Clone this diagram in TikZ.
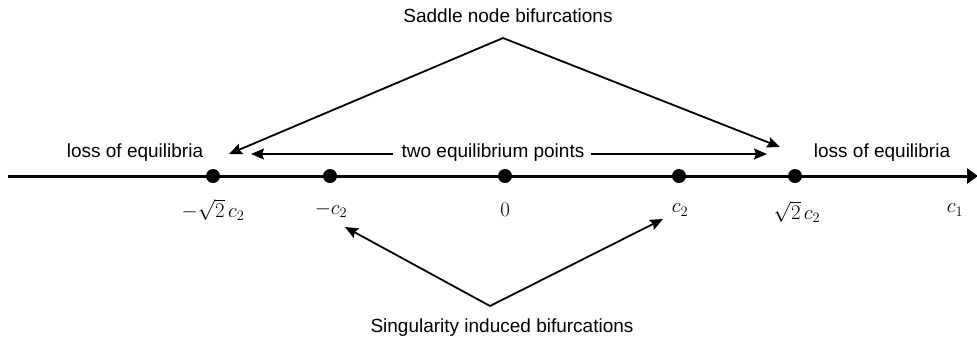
\documentclass[tikz,border=0pt]{standalone}
\usepackage{fontspec}
\setmainfont{Liberation Sans}
\usetikzlibrary{arrows.meta}
\begin{document}
\begin{tikzpicture}[x=1pt,y=-1pt,
  lbl/.style={inner sep=0pt, font=\fontsize{19}{22}\selectfont},
  mlbl/.style={inner sep=0pt, font=\fontsize{21}{24}\selectfont},
  dot/.style={circle, fill=black, minimum size=14pt, inner sep=0pt},
  arr/.style={line width=1.8pt, -{Stealth[length=13pt,width=11pt,inset=2pt]}},
  axis/.style={line width=3pt, -{Triangle[length=11pt,width=15pt]}}]
\useasboundingbox (0,0) rectangle (977,341);
% axis
\coordinate (a0) at (8,176);
\coordinate (a1) at (978,176);
\draw[axis] (a0) -- (a1);
% dots
\node[dot] (d1) at (213,176) {};
\node[dot] (d2) at (330,176) {};
\node[dot] (d3) at (505,176) {};
\node[dot] (d4) at (679,176) {};
\node[dot] (d5) at (795,176) {};
% axis labels
\node[mlbl] (l1) at (213,210) {$-\sqrt{2}\,c_{2}$};
\node[mlbl] (l2) at (331,210) {$-c_{2}$};
\node[mlbl] (l3) at (505,210) {$0$};
\node[mlbl] (l4) at (680,210) {$c_{2}$};
\node[mlbl] (l5) at (797,212) {$\sqrt{2}\,c_{2}$};
\node[mlbl] (l6) at (955,210) {$c_{1}$};
% texts
\node[lbl] (lossL) at (135,153) {loss of equilibria};
\node[lbl] (lossR) at (882,153) {loss of equilibria};
\node[lbl] (two) at (493,153) {two equilibrium points};
\node[lbl] (sad) at (508,16) {Saddle node bifurcations};
\node[lbl] (sing) at (502,328) {Singularity induced bifurcations};
% arrows for two equilibrium points
\coordinate (tL) at (251,154);
\coordinate (tR) at (767,154);
\draw[arr] (two.west) ++(-8,1) coordinate (twoW) -- (tL);
\draw[arr] (two.east) ++(6,1) coordinate (twoE) -- (tR);
% saddle node
\coordinate (sApex) at (503,38);
\coordinate (sL) at (229,154);
\coordinate (sR) at (780,147);
\draw[arr] (sApex) -- (sL);
\draw[arr] (sApex) -- (sR);
% singularity
\coordinate (gApex) at (490,306);
\coordinate (gL) at (345,227);
\coordinate (gR) at (663,219);
\draw[arr] (gApex) -- (gL);
\draw[arr] (gApex) -- (gR);
\end{tikzpicture}
\end{document}
